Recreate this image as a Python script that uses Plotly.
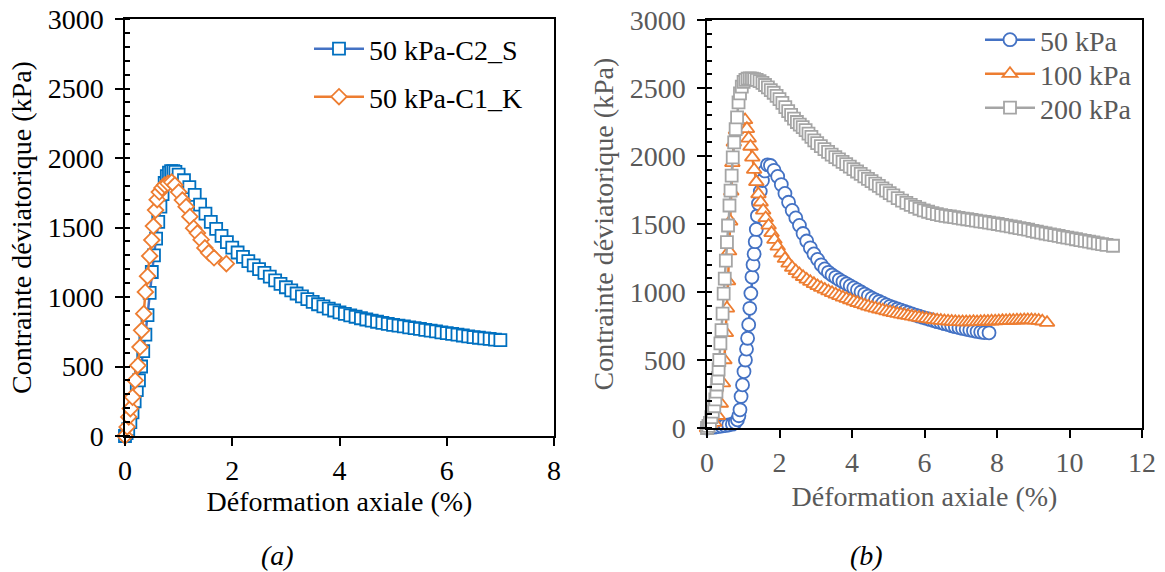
import plotly.graph_objects as go

# ---------------- Panel (a) data ----------------
c2s_strain = [0, 0.03, 0.06, 0.1, 0.14, 0.18, 0.22, 0.26, 0.3, 0.34, 0.38, 0.42, 0.46, 0.5, 0.54,
              0.58, 0.62, 0.66, 0.7, 0.74, 0.78, 0.82, 0.86, 0.9, 0.94,
              1.0, 1.1, 1.2, 1.3, 1.4, 1.5, 1.6, 1.7, 1.8, 1.9, 2.0, 2.1, 2.2, 2.3, 2.4, 2.5, 2.6,
              2.7, 2.8, 2.9, 3.0, 3.1, 3.2, 3.3, 3.4, 3.5, 3.6, 3.7, 3.8, 3.9, 4.0, 4.1, 4.2, 4.3,
              4.4, 4.5, 4.6, 4.7, 4.8, 4.9, 5.0, 5.1, 5.2, 5.3, 5.4, 5.5, 5.6, 5.7, 5.8, 5.9, 6.0,
              6.1, 6.2, 6.3, 6.4, 6.5, 6.6, 6.7, 6.8, 6.9, 7.0]
c2s_stress = [0, 20, 50, 100, 170, 250, 330, 400, 500, 610, 730, 870, 1030, 1180, 1300,
              1420, 1540, 1650, 1740, 1820, 1870, 1895, 1905, 1905, 1900,
              1880, 1840, 1790, 1735, 1665, 1600, 1540, 1490, 1440, 1395, 1355, 1320, 1288, 1258,
              1228, 1200, 1173, 1146, 1120, 1095, 1070, 1047, 1025, 1004, 984, 965, 948, 932, 917,
              903, 890, 879, 868, 858, 847, 838, 830, 822, 814, 807, 800, 794, 788, 782, 776, 770,
              764, 758, 752, 746, 740, 734, 729, 723, 717, 712, 707, 703, 699, 694, 690]

c1k_strain = [0, 0.04, 0.07, 0.1, 0.14, 0.19, 0.24, 0.28, 0.31, 0.35, 0.38, 0.42, 0.46, 0.5, 0.53,
              0.57, 0.6, 0.64, 0.69, 0.74, 0.8, 0.87, 0.93, 1.0, 1.07, 1.14, 1.21, 1.28, 1.35, 1.42,
              1.49, 1.56, 1.66, 1.89]
c1k_stress = [0, 65, 137, 197, 280, 400, 508, 640, 760, 880, 1036, 1150, 1295, 1410, 1510,
              1625, 1700, 1755, 1785, 1805, 1818, 1827, 1805, 1755, 1697, 1650, 1578, 1495, 1460,
              1412, 1353, 1318, 1282, 1240]

# ---------------- Panel (b) data ----------------
p50_strain = [0, 0.1, 0.2, 0.3, 0.4, 0.5, 0.6, 0.7, 0.78, 0.84, 0.88, 0.91, 0.94, 0.98, 1.02, 1.06,
              1.09, 1.12, 1.15, 1.18, 1.21, 1.24, 1.27, 1.3, 1.33, 1.36, 1.39, 1.42, 1.47, 1.53, 1.6,
              1.67, 1.75, 1.85, 1.95, 2.05, 2.15, 2.25, 2.35, 2.45, 2.55, 2.65, 2.75, 2.85, 2.95,
              3.05, 3.15, 3.25, 3.35, 3.45, 3.55, 3.65, 3.75, 3.85, 3.95, 4.05, 4.15, 4.25, 4.35,
              4.45, 4.55, 4.65, 4.75, 4.85, 4.95, 5.05, 5.15, 5.25, 5.35, 5.45, 5.55, 5.65, 5.75,
              5.85, 5.95, 6.05, 6.15, 6.25, 6.35, 6.45, 6.55, 6.65, 6.75, 6.85, 6.95, 7.05, 7.15,
              7.25, 7.35, 7.45, 7.55, 7.65, 7.78]
p50_stress = [0, 3, 6, 10, 14, 18, 22, 28, 40, 60, 90, 134, 232, 317, 415, 500,
              580, 660, 760, 880, 990, 1110, 1200, 1280, 1370, 1460, 1560, 1650, 1740, 1820, 1890,
              1935, 1930, 1895, 1850, 1790, 1725, 1660, 1600, 1545, 1490, 1430, 1375, 1325, 1280,
              1240, 1200, 1170, 1145, 1125, 1108, 1090, 1075, 1060, 1045, 1030, 1015, 1000, 985,
              970, 955, 942, 930, 918, 906, 895, 885, 875, 866, 857, 848, 839, 830,
              822, 814, 806, 798, 790, 782, 775, 767, 760, 752, 745, 738, 732, 726,
              720, 715, 710, 706, 702, 700]

p100_strain = [0, 0.1, 0.2, 0.3, 0.38, 0.44, 0.48, 0.52, 0.55, 0.58, 0.61, 0.64, 0.67, 0.7, 0.74,
               0.8, 0.87, 0.94, 1.0, 1.05, 1.1, 1.15, 1.2, 1.25, 1.3, 1.36, 1.42, 1.48, 1.55, 1.62,
               1.7, 1.78, 1.86, 1.95, 2.05, 2.15, 2.25, 2.35, 2.45, 2.55, 2.65, 2.75, 2.85, 2.95,
               3.05, 3.15, 3.25, 3.35, 3.45, 3.55, 3.65, 3.75, 3.85, 3.95, 4.05, 4.15, 4.25, 4.35,
               4.45, 4.55, 4.65, 4.75, 4.85, 4.95, 5.05, 5.15, 5.25, 5.35, 5.45, 5.55, 5.65, 5.75,
               5.85, 5.95, 6.05, 6.15, 6.25, 6.35, 6.45, 6.55, 6.65, 6.75, 6.85, 6.95, 7.05, 7.15,
               7.25, 7.35, 7.45, 7.55, 7.65, 7.75, 7.85, 7.95, 8.05, 8.15, 8.25, 8.35, 8.45, 8.55,
               8.65, 8.75, 8.85, 8.95, 9.05, 9.15, 9.25, 9.38]
p100_stress = [0, 15, 40, 90, 180, 330, 500, 700, 880, 1080, 1300, 1520, 1740, 1950, 2100,
               2190, 2235, 2255, 2262, 2265, 2200, 2130, 2070, 1990, 1900, 1810, 1720, 1660, 1600,
               1545, 1490, 1435, 1385, 1335, 1285, 1245, 1210, 1180, 1155, 1132, 1112, 1093, 1076,
               1060, 1045, 1032, 1019, 1006, 994, 983, 972, 961, 951, 941, 931, 921, 912, 903,
               895, 887, 880, 873, 866, 859, 853, 847, 841, 836, 831, 826, 821, 816,
               812, 808, 804, 800, 796, 793, 790, 787, 785, 783, 781, 780, 779, 779,
               780, 781, 780, 782, 783, 784, 785, 786, 787, 788, 789, 790, 791, 792,
               793, 794, 795, 794, 792, 790, 785, 775]

p200_strain = [0, 0.04, 0.08, 0.12, 0.16, 0.2, 0.23, 0.26, 0.28, 0.3, 0.32, 0.34, 0.37, 0.4, 0.43,
               0.46, 0.49, 0.52, 0.55, 0.58, 0.62, 0.65, 0.68, 0.71, 0.75, 0.79, 0.83, 0.87, 0.91,
               0.96, 1.01, 1.06, 1.12, 1.18, 1.24, 1.3, 1.37, 1.45, 1.53, 1.6, 1.68, 1.76, 1.84,
               1.92, 2.0, 2.08, 2.16, 2.24, 2.32, 2.4, 2.48, 2.56, 2.64, 2.72, 2.8, 2.88, 2.96,
               3.04, 3.14, 3.24, 3.34, 3.44, 3.54, 3.64, 3.74, 3.84, 3.94, 4.04, 4.14, 4.24, 4.34,
               4.44, 4.54, 4.64, 4.74, 4.84, 4.94, 5.04, 5.14, 5.26, 5.38, 5.5, 5.62, 5.74, 5.86,
               5.98, 6.1, 6.22, 6.34, 6.46, 6.58, 6.7, 6.82, 6.94, 7.06, 7.18, 7.3, 7.42, 7.54,
               7.66, 7.78, 7.9, 8.02, 8.14, 8.26, 8.38, 8.5, 8.62, 8.74, 8.86, 8.98, 9.1, 9.22,
               9.34, 9.46, 9.58, 9.7, 9.82, 9.94, 10.06, 10.18, 10.3, 10.42, 10.54, 10.66, 10.78,
               10.9, 11.02, 11.2]
p200_stress = [0, 15, 37, 80, 120, 160, 210, 268, 320, 366, 430, 500, 622, 720, 841,
               988, 1098, 1230, 1367, 1489, 1636, 1746, 1856, 1990, 2100, 2198, 2284, 2394, 2460,
               2510, 2545, 2560, 2568, 2570, 2568, 2565, 2560, 2550, 2538, 2522, 2504, 2485, 2465,
               2442, 2418, 2390, 2360, 2330, 2302, 2275, 2250, 2230, 2212, 2190, 2165, 2140, 2115,
               2095, 2072, 2050, 2030, 2010, 1992, 1975, 1957, 1940, 1922, 1904, 1886, 1868, 1850,
               1832, 1815, 1797, 1780, 1762, 1745, 1727, 1710, 1690, 1672, 1656, 1640, 1626, 1612,
               1600, 1590, 1580, 1572, 1565, 1560, 1555, 1550, 1545, 1540, 1535, 1530, 1525, 1520,
               1515, 1510, 1505, 1500, 1494, 1488, 1482, 1476, 1470, 1464, 1458, 1450, 1443, 1436,
               1430, 1424, 1418, 1412, 1406, 1400, 1394, 1388, 1382, 1376, 1370, 1364, 1358,
               1352, 1347, 1340]

x_title = "Déformation axiale (%)"
y_title = "Contrainte déviatorique (kPa)"
labels_a = ["50 kPa-C2_S", "50 kPa-C1_K"]
labels_b = ["50 kPa", "100 kPa", "200 kPa"]

FONT = "'Liberation Serif', 'Times New Roman', 'DejaVu Serif', serif"
GREY_TXT = "#595959"
BLUE = "#4472C4"
BLUE_A = "#0070C0"
ORANGE = "#ED7D31"
GREY = "#A5A5A5"
W, H = 1165, 572

fig = go.Figure()

fig.add_trace(go.Scatter(x=c2s_strain, y=c2s_stress, name=labels_a[0], mode="lines+markers",
                         line=dict(color=BLUE, width=2.5),
                         marker=dict(symbol="square", size=12, color="white",
                                     line=dict(color=BLUE_A, width=1.8)),
                         xaxis="x", yaxis="y", legend="legend", cliponaxis=False))
fig.add_trace(go.Scatter(x=c1k_strain, y=c1k_stress, name=labels_a[1], mode="lines+markers",
                         line=dict(color=ORANGE, width=2.5),
                         marker=dict(symbol="diamond", size=12, color="white",
                                     line=dict(color=ORANGE, width=1.8)),
                         xaxis="x", yaxis="y", legend="legend2", cliponaxis=False))

fig.add_trace(go.Scatter(x=p50_strain, y=p50_stress, name=labels_b[0], mode="lines+markers",
                         line=dict(color=BLUE, width=2.5),
                         marker=dict(symbol="circle", size=13, color="white",
                                     line=dict(color=BLUE, width=1.8)),
                         xaxis="x2", yaxis="y2", legend="legend3", cliponaxis=False))
fig.add_trace(go.Scatter(x=p100_strain, y=p100_stress, name=labels_b[1], mode="lines+markers",
                         line=dict(color=ORANGE, width=2.5),
                         marker=dict(symbol="triangle-up", size=13, color="white",
                                     line=dict(color=ORANGE, width=1.8)),
                         xaxis="x2", yaxis="y2", legend="legend4", cliponaxis=False))
fig.add_trace(go.Scatter(x=p200_strain, y=p200_stress, name=labels_b[2], mode="lines+markers",
                         line=dict(color=GREY, width=2.5),
                         marker=dict(symbol="square", size=12, color="white",
                                     line=dict(color=GREY, width=1.8)),
                         xaxis="x2", yaxis="y2", legend="legend5", cliponaxis=False))


def xax(domain, rng, color, standoff):
    return dict(domain=domain, range=rng, dtick=2, ticks="outside", ticklen=8, tickwidth=1.5,
                tickcolor="black", showline=True, linecolor="black", linewidth=1.5, mirror=True,
                showgrid=False, zeroline=False, ticklabelstandoff=1, automargin=False,
                tickfont=dict(family=FONT, size=28, color=color),
                title=dict(text=x_title, font=dict(family=FONT, size=28, color=color),
                           standoff=standoff))


def yax(domain, anchor, color):
    return dict(domain=domain, range=[0, 3000], dtick=500, ticks="outside", ticklen=8,
                tickwidth=1.5, tickcolor="black", showline=True, linecolor="black",
                linewidth=1.5, mirror=True, showgrid=False, zeroline=False, anchor=anchor,
                ticklabelstandoff=6, automargin=False,
                minor=dict(ticks="inside", dtick=100, ticklen=5, tickwidth=1.5, tickcolor="black",
                           showgrid=False),
                tickfont=dict(family=FONT, size=28, color=color),
                title=dict(text=y_title, font=dict(family=FONT, size=28, color=color), standoff=8))


def leg(xpx, ypx, color):
    return dict(x=xpx / W, y=1 - ypx / H, xanchor="left", yanchor="middle",
                bgcolor="rgba(0,0,0,0)", itemwidth=50,
                font=dict(family=FONT, size=28, color=color))


fig.update_layout(
    width=W, height=H,
    margin=dict(l=0, r=0, t=0, b=0, autoexpand=False),
    paper_bgcolor="white", plot_bgcolor="white",
    font=dict(family=FONT, size=28, color="black"),
    showlegend=True,
    xaxis=dict(xax([125 / W, 554 / W], [0, 8], "black", 1), anchor="y"),
    yaxis=yax([1 - 436 / H, 1 - 19 / H], "x", "black"),
    xaxis2=dict(xax([707 / W, 1142 / W], [0, 12], GREY_TXT, 9), anchor="y2"),
    yaxis2=yax([1 - 428 / H, 1 - 20 / H], "x2", GREY_TXT),
    legend=leg(309, 49, "black"),
    legend2=leg(309, 97, "black"),
    legend3=leg(980, 40, GREY_TXT),
    legend4=leg(980, 74, GREY_TXT),
    legend5=leg(980, 108, GREY_TXT),
    annotations=[
        dict(text="(a)", x=277 / W, y=1 - 555 / H, xref="paper", yref="paper",
             showarrow=False, font=dict(family=FONT, size=28, color="black", style="italic"),
             xanchor="center", yanchor="middle"),
        dict(text="(b)", x=866 / W, y=1 - 555 / H, xref="paper", yref="paper",
             showarrow=False, font=dict(family=FONT, size=28, color="black", style="italic"),
             xanchor="center", yanchor="middle"),
    ],
)

fig.write_html("out.html", config={"displayModeBar": False},
               post_script="document.body.style.margin='0px';")
